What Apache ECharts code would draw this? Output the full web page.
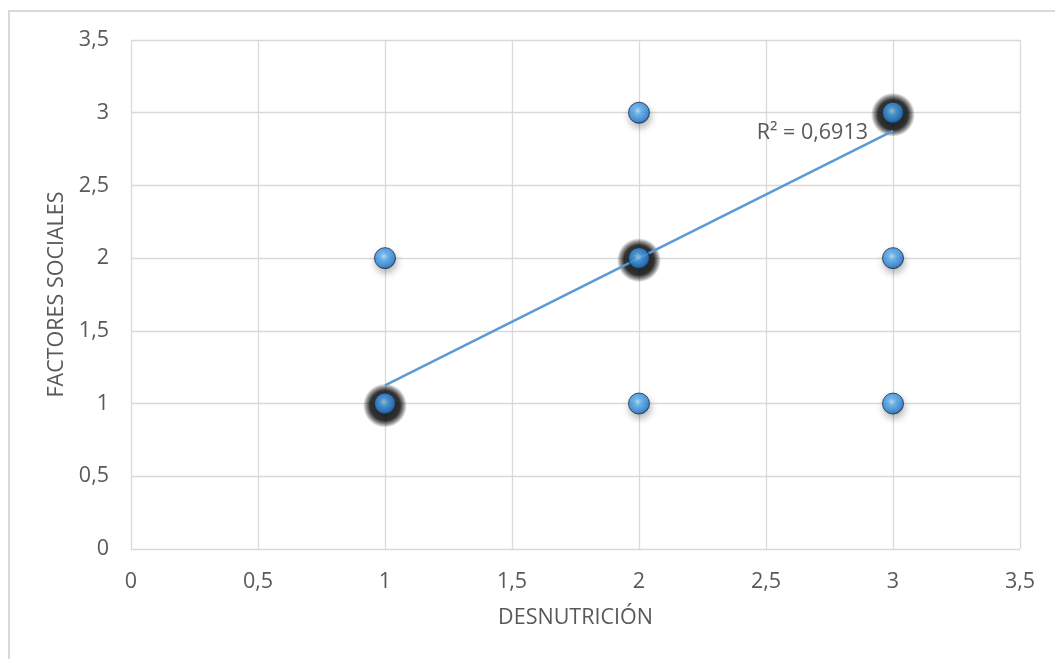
<!DOCTYPE html>
<html>
<head>
<meta charset="utf-8">
<script src="https://cdn.jsdelivr.net/npm/echarts@6/dist/echarts.min.js"></script>
<style>
html,body{margin:0;padding:0;background:#fff;}
#c{width:1055px;height:659px;}
</style>
</head>
<body>
<div id="c"></div>
<script>
// Data
var xs = [1, 1, 2, 2, 2, 3, 3, 3];
var ys = [1, 2, 1, 2, 3, 1, 2, 3];
var counts = [3, 1, 1, 4, 1, 1, 1, 4]; // overlapping observations (darker halo)
var trendX = [1, 3];
var trendY = [1.125, 2.875];
var r2Text = 'R² = 0,6913';
var xTicks = [0, 0.5, 1, 1.5, 2, 2.5, 3, 3.5];
var yTicks = [0, 0.5, 1, 1.5, 2, 2.5, 3, 3.5];
var xName = 'DESNUTRICIÓN';
var yName = 'FACTORES SOCIALES';

var FONT = '"Open Sans", "Noto Sans", sans-serif';
var FS = 21.5;
var TXT = '#595959';
function fmt(v){ return String(v).replace('.', ','); }

var single = [], heavy = [];
for (var i = 0; i < xs.length; i++) {
  var p = [xs[i], ys[i]];
  if (counts[i] > 1) heavy.push(p);
  single.push(p);
}

var ballColor = {
  type: 'radial', x: 0.45, y: 0.42, r: 0.6,
  colorStops: [
    {offset: 0, color: '#b8e4ff'},
    {offset: 0.3, color: '#55b0f5'},
    {offset: 0.78, color: '#2a80d6'},
    {offset: 1, color: '#173a62'}
  ]
};
var haloColor = {
  type: 'radial', x: 0.5, y: 0.5, r: 0.5,
  colorStops: [
    {offset: 0, color: 'rgba(0,0,0,1)'},
    {offset: 0.68, color: 'rgba(0,0,0,1)'},
    {offset: 0.84, color: 'rgba(0,0,0,0.55)'},
    {offset: 1, color: 'rgba(0,0,0,0)'}
  ]
};

var chart = echarts.init(document.getElementById('c'), null, {renderer: 'canvas'});
chart.setOption({
  animation: false,
  backgroundColor: '#fff',
  grid: {left: 131, right: 35, top: 40, bottom: 110, show: false},
  xAxis: {
    type: 'value', min: 0, max: 3.5, interval: 0.5,
    name: xName, nameLocation: 'middle', nameGap: 58,
    nameTextStyle: {fontFamily: FONT, fontSize: FS, color: TXT},
    axisLine: {show: false}, axisTick: {show: false},
    axisLabel: {fontFamily: FONT, fontSize: FS, color: TXT, margin: 22,
      formatter: function(v){ return xTicks.indexOf(v) >= 0 ? fmt(v) : ''; }},
    splitLine: {show: true, lineStyle: {color: '#d9d9d9', width: 1.3}}
  },
  yAxis: {
    type: 'value', min: 0, max: 3.5, interval: 0.5,
    name: yName, nameLocation: 'middle', nameGap: 60,
    nameTextStyle: {fontFamily: FONT, fontSize: FS, color: TXT},
    axisLine: {show: false}, axisTick: {show: false},
    axisLabel: {fontFamily: FONT, fontSize: FS, color: TXT, margin: 22,
      formatter: function(v){ return yTicks.indexOf(v) >= 0 ? fmt(v) : ''; }},
    splitLine: {show: true, lineStyle: {color: '#d9d9d9', width: 1.3}}
  },
  series: [
    {
      type: 'scatter', data: heavy, symbolSize: 44, z: 2, silent: true,
      symbolOffset: [0, 2],
      itemStyle: {color: haloColor}
    },
    {
      type: 'line', data: trendX.map(function(x, i){ return [x, trendY[i]]; }),
      symbol: 'none', z: 3, silent: true,
      lineStyle: {color: '#5b9bd5', width: 2.5}
    },
    {
      type: 'scatter', data: single, symbolSize: 21, z: 4, silent: true,
      itemStyle: {color: ballColor, borderColor: '#16314f', borderWidth: 1,
        shadowColor: 'rgba(0,0,0,0.35)', shadowBlur: 7, shadowOffsetX: 1, shadowOffsetY: 4}
    }
  ]
});

var endPx = chart.convertToPixel({gridIndex: 0}, [trendX[1], trendY[1]]);
chart.setOption({
  graphic: [
    {
      type: 'rect', silent: true, z: -10,
      shape: {x: 9, y: 11, width: 1100, height: 700},
      style: {fill: 'none', stroke: '#d9d9d9', lineWidth: 2}
    },
    {
      type: 'text', silent: true, z: 10,
      x: endPx[0] - 25, y: endPx[1] + 2,
      style: {text: r2Text, fontFamily: FONT, fontSize: FS, fill: TXT,
        align: 'right', verticalAlign: 'middle'}
    }
  ]
});
</script>
</body>
</html>
